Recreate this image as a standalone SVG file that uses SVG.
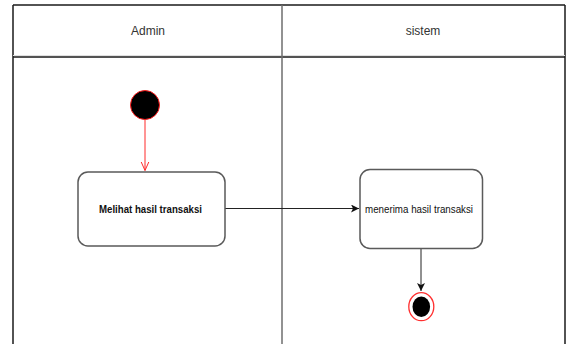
<svg xmlns="http://www.w3.org/2000/svg" width="568" height="344" viewBox="0 0 568 344">
<style>
.frame{fill:none;stroke:#1a1a1a;stroke-width:1.5}
.div{fill:none;stroke:#6e6e6e;stroke-width:1.5}
.hdr{font-family:"Liberation Sans",Arial,sans-serif;font-size:12px;fill:#333;text-anchor:middle}
.act{fill:#fff;stroke:#5a5a5a;stroke-width:1.5}
.lbl{font-family:"Liberation Sans",Arial,sans-serif;font-size:11px;fill:#111;text-anchor:middle}
.edge{fill:none;stroke:#222;stroke-width:1}
</style>
<defs>
<marker id="openRed" markerWidth="10" markerHeight="12" refX="9" refY="5" orient="auto" markerUnits="userSpaceOnUse">
<path d="M0,1 L9,5 L0,9" fill="none" stroke="#ff2a2a" stroke-width="1"/>
</marker>
<marker id="blk" markerWidth="10" markerHeight="10" refX="8" refY="4" orient="auto" markerUnits="userSpaceOnUse">
<path d="M0,0 L8,4 L0,8 L2,4 z" fill="#111"/>
</marker>
</defs>
<rect width="568" height="344" fill="#fff"/>
<g id="swimlanes">
<line x1="13" y1="5" x2="565" y2="5" class="frame"/>
<line x1="13" y1="5" x2="13" y2="344" class="frame"/>
<line x1="565" y1="5" x2="565" y2="344" class="frame"/>
<line x1="13" y1="55.5" x2="565" y2="55.5" stroke="#e0e0e0" stroke-width="1"/>
<line x1="13" y1="57" x2="565" y2="57" class="frame"/>
<line x1="282" y1="5" x2="282" y2="344" class="div"/>
<text x="148" y="35" class="hdr">Admin</text>
<text x="423" y="35" class="hdr">sistem</text>
</g>
<g id="connectors">
<line x1="145" y1="120" x2="145" y2="170.5" stroke="#ff2a2a" stroke-width="1" marker-end="url(#openRed)"/>
<line x1="225" y1="208.5" x2="359" y2="208.5" class="edge" marker-end="url(#blk)"/>
<line x1="421" y1="248" x2="421" y2="291" class="edge" marker-end="url(#blk)"/>
</g>
<g id="start">
<circle cx="145" cy="105" r="14.5" fill="#000" stroke="#ff1a1a" stroke-width="1"/>
</g>
<g id="melihat">
<rect x="78" y="172" width="147" height="74" rx="10" class="act"/>
<text x="150.5" y="213" class="lbl" font-weight="bold" textLength="103" lengthAdjust="spacingAndGlyphs">Melihat hasil transaksi</text>
</g>
<g id="menerima">
<rect x="360" y="169.5" width="122.5" height="79" rx="10" class="act"/>
<text x="419" y="212.5" class="lbl" textLength="108" lengthAdjust="spacingAndGlyphs">menerima hasil transaksi</text>
</g>
<g id="end">
<ellipse cx="421.3" cy="306.7" rx="12.5" ry="14" fill="#fff" stroke="#ff3030" stroke-width="1.3"/>
<ellipse cx="421.3" cy="306.7" rx="8.8" ry="10.3" fill="#000"/>
</g>
</svg>
